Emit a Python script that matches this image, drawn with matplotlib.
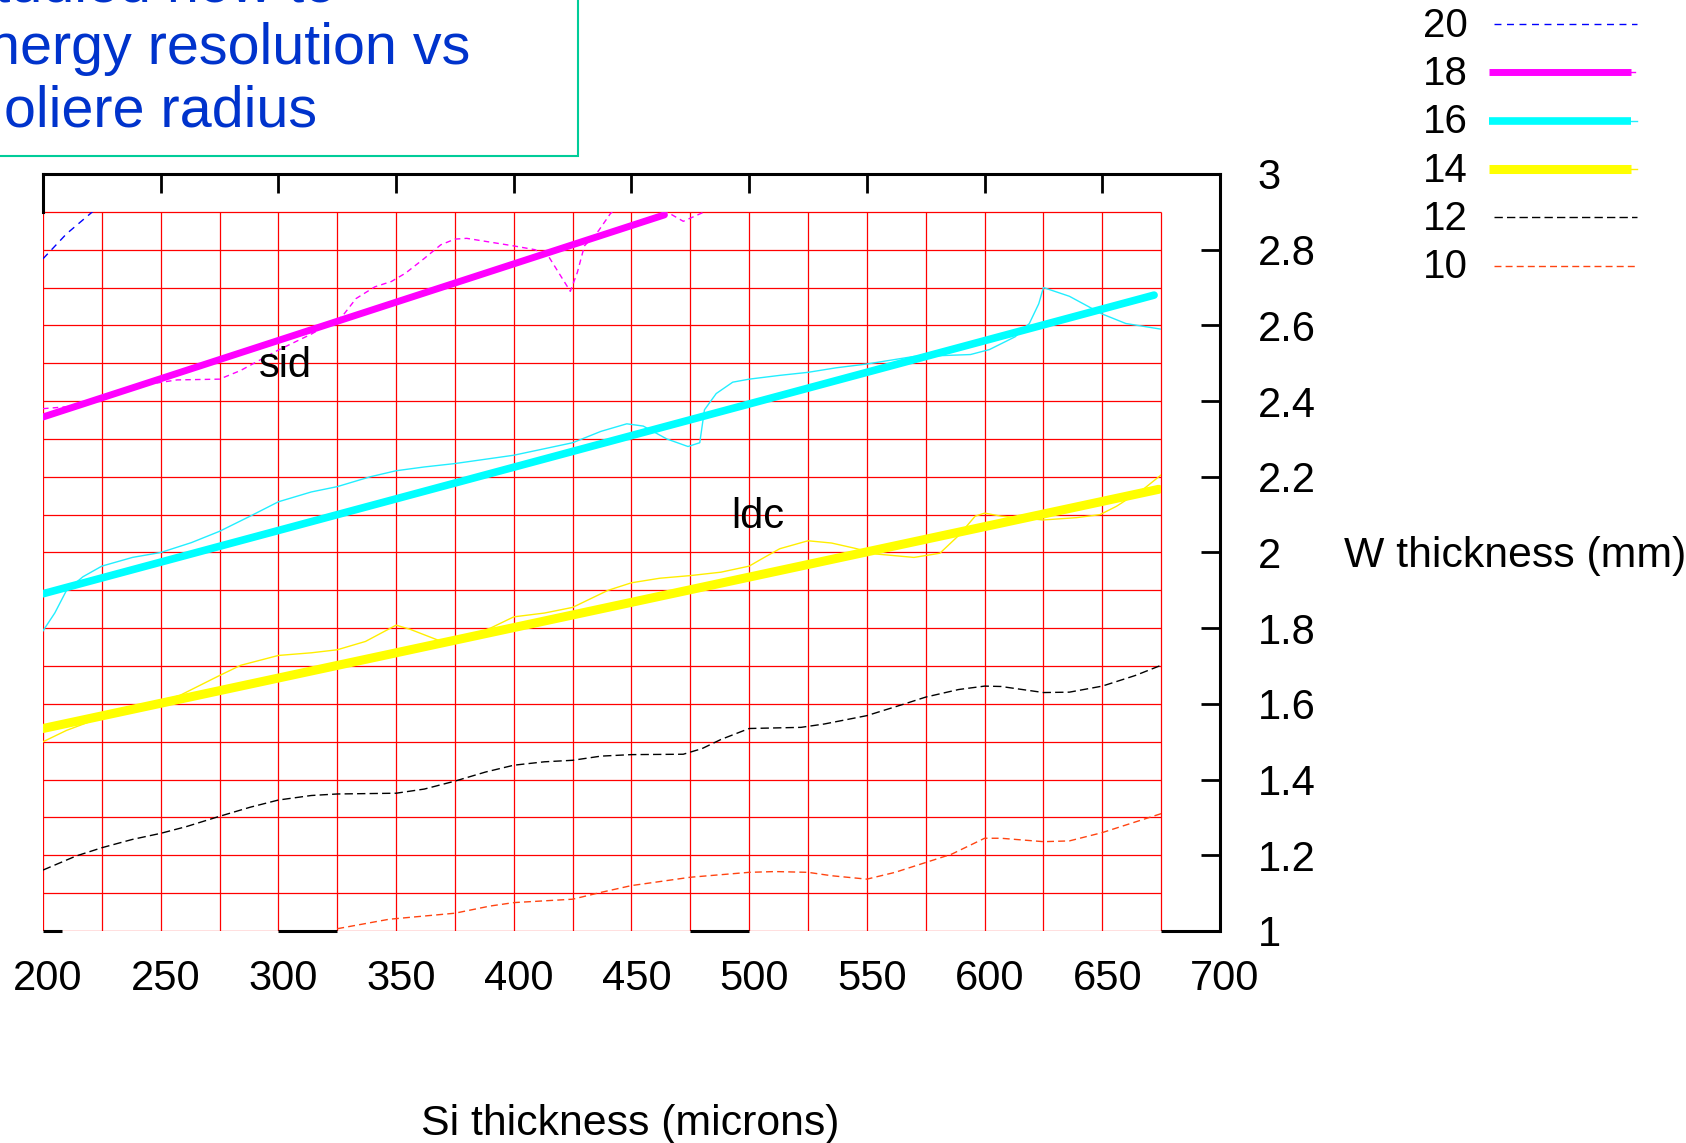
import matplotlib
matplotlib.use('Agg')
import matplotlib.pyplot as plt
from matplotlib.patches import Rectangle
from matplotlib.transforms import ScaledTranslation
import numpy as np

plt.rcParams['font.family'] = ['Liberation Sans', 'DejaVu Sans']

# Espesor de Si (micras) vs espesor de W (mm) para cada radio de Moliere
si_20 = [200, 210, 221, 226]
w_20 = [2.776, 2.842, 2.9, 2.93]

si_18 = [200, 210, 225, 240, 257, 275, 284, 300, 314, 327, 333, 341, 348, 354, 362, 369, 375, 380,
         390, 400, 409, 415, 420, 424, 427, 430, 436, 441, 450, 465, 472, 481, 490]
w_18 = [2.38, 2.385, 2.41, 2.44, 2.456, 2.458, 2.481, 2.535, 2.577, 2.623, 2.671, 2.702, 2.716, 2.738,
        2.777, 2.813, 2.828, 2.83, 2.82, 2.81, 2.80, 2.78, 2.73, 2.69, 2.74, 2.81, 2.85, 2.895, 2.95,
        2.9, 2.875, 2.9, 2.95]

si_16 = [200, 205, 210, 217, 225, 238, 250, 263, 275, 288, 300, 314, 325, 339, 350, 362, 375, 400,
         425, 437, 448, 455, 465, 474, 479, 481, 486, 493, 500, 513, 525, 537, 550, 570, 581, 594,
         602, 613, 619, 623, 625, 636, 650, 660, 675]
w_16 = [1.793, 1.84, 1.90, 1.936, 1.964, 1.987, 2.0, 2.026, 2.056, 2.096, 2.134, 2.16, 2.174, 2.2,
        2.216, 2.226, 2.235, 2.257, 2.29, 2.32, 2.34, 2.334, 2.30, 2.28, 2.29, 2.377, 2.42, 2.45,
        2.458, 2.468, 2.476, 2.488, 2.498, 2.518, 2.52, 2.523, 2.536, 2.57, 2.605, 2.657, 2.70,
        2.677, 2.63, 2.605, 2.59]

si_14 = [200, 210, 225, 240, 258, 275, 284, 300, 314, 325, 337, 350, 356, 368, 380, 390, 400, 413,
         425, 440, 450, 462, 475, 488, 500, 505, 513, 525, 535, 545, 554, 570, 581, 589, 596, 600,
         607, 625, 639, 649, 656, 668, 675]
w_14 = [1.50, 1.53, 1.565, 1.59, 1.622, 1.675, 1.702, 1.728, 1.735, 1.743, 1.765, 1.808, 1.797,
        1.768, 1.775, 1.80, 1.83, 1.84, 1.855, 1.90, 1.92, 1.932, 1.939, 1.948, 1.964, 1.982, 2.01,
        2.031, 2.025, 2.011, 1.996, 1.987, 1.998, 2.045, 2.096, 2.104, 2.096, 2.086, 2.092, 2.10,
        2.122, 2.17, 2.205]

si_12 = [200, 214, 225, 238, 250, 261, 275, 288, 300, 314, 325, 350, 362, 375, 388, 400, 413, 425,
         437, 450, 472, 480, 488, 500, 522, 532, 550, 566, 575, 589, 600, 607, 625, 636, 650, 664, 675]
w_12 = [1.161, 1.198, 1.22, 1.242, 1.258, 1.276, 1.303, 1.327, 1.346, 1.358, 1.362, 1.364, 1.375,
        1.396, 1.42, 1.438, 1.447, 1.451, 1.462, 1.466, 1.467, 1.482, 1.506, 1.535, 1.538, 1.547,
        1.569, 1.60, 1.618, 1.638, 1.647, 1.646, 1.63, 1.631, 1.647, 1.675, 1.702]

si_10 = [325, 347, 375, 390, 400, 425, 437, 450, 475, 500, 511, 525, 535, 550, 562, 575, 586, 600,
         607, 625, 636, 650, 675]
w_10 = [1.006, 1.031, 1.047, 1.066, 1.075, 1.084, 1.102, 1.12, 1.142, 1.155, 1.157, 1.155, 1.146,
        1.137, 1.155, 1.181, 1.203, 1.245, 1.245, 1.236, 1.238, 1.26, 1.31]

# Ajustes lineales (extremos de cada recta)
fit_18_x = [200, 464]
fit_18_y = [2.358, 2.892]
fit_16_x = [200, 672]
fit_16_y = [1.891, 2.680]
fit_14_x = [200, 674]
fit_14_y = [1.535, 2.167]

x_ticks = [200, 250, 300, 350, 400, 450, 500, 550, 600, 650, 700]
y_ticks = [1, 1.2, 1.4, 1.6, 1.8, 2, 2.2, 2.4, 2.6, 2.8, 3]
y_tick_labels = ['1', '1.2', '1.4', '1.6', '1.8', '2', '2.2', '2.4', '2.6', '2.8', '3']

title_lines = ['Studied how to', 'energy resolution vs', 'Moliere radius']
legend_labels = ['20', '18', '16', '14', '12', '10']

# Tramos visibles del eje inferior negro
axis_seg_start = [200, 300, 475, 675]
axis_seg_end = [208, 325, 500, 700]

# Estilos: linea fina (datos) y linea gruesa (ajuste)
thin_style = {
    '20': dict(color='#0000FF', lw=1.0, dashes=(5, 4)),
    '18': dict(color='#FF00FF', lw=1.0, dashes=(4, 3)),
    '16': dict(color='#22EEFF', lw=1.0),
    '14': dict(color='#FFEE00', lw=1.0),
    '12': dict(color='#000000', lw=1.0, dashes=(6, 3)),
    '10': dict(color='#FF4411', lw=1.0, dashes=(5, 3)),
}
thick_style = {
    '18': dict(color='#FF00FF', lw=5.0),
    '16': dict(color='#00FFFF', lw=5.5),
    '14': dict(color='#FFFF00', lw=6.5),
}

fig = plt.figure(figsize=(16.86, 11.43), dpi=100)
ax = fig.add_axes([0.0255, 0.18548, 0.6981, 0.66229])
ax.set_xlim(200, 700)
ax.set_ylim(1, 3)

# Rejilla roja (solo sobre el area de datos)
grid_x = np.arange(200, 676, 25)
grid_y = np.round(np.arange(1.0, 2.91, 0.1), 1)
ax.vlines(grid_x, 1, 2.9, colors='red', lw=0.9, zorder=1)
ax.hlines(grid_y, 200, 675, colors='red', lw=0.9, zorder=1)

clip = Rectangle((200, 1), 475, 1.9, transform=ax.transData, visible=False)

series = [('20', si_20, w_20), ('18', si_18, w_18), ('16', si_16, w_16),
          ('14', si_14, w_14), ('12', si_12, w_12), ('10', si_10, w_10)]
for name, xs, ys in series:
    line, = ax.plot(xs, ys, zorder=3, **thin_style[name])
    line.set_clip_path(clip)

fits = [('18', fit_18_x, fit_18_y), ('16', fit_16_x, fit_16_y), ('14', fit_14_x, fit_14_y)]
for name, xs, ys in fits:
    line, = ax.plot(xs, ys, zorder=4, solid_capstyle='round', **thick_style[name])
    line.set_clip_path(clip)

ax.text(302.8, 2.464, 'sid', fontsize=30, ha='center', va='baseline', zorder=5)
ax.text(503.7, 2.066, 'ldc', fontsize=30, ha='center', va='baseline', zorder=5)

# Ejes y marcas
for side in ['top', 'right', 'left']:
    ax.spines[side].set_linewidth(2.2)
ax.spines['left'].set_bounds(2.9, 3)
ax.spines['bottom'].set_visible(False)
ax.hlines([1] * len(axis_seg_start), axis_seg_start, axis_seg_end, colors='black', lw=2.2,
          zorder=4, clip_on=False)

ax.set_xticks(x_ticks)
ax.set_yticks(y_ticks)
ax.set_yticklabels(y_tick_labels)
ax.tick_params(axis='x', direction='in', top=True, bottom=False, labelbottom=True,
               length=13.5, width=2, pad=20.5, labelsize=30)
ax.tick_params(axis='y', direction='in', left=False, right=True, labelleft=False, labelright=True,
               length=13.5, width=2, pad=27, labelsize=30)
shift = ScaledTranslation(5 / 100, 0, fig.dpi_scale_trans)
for label in ax.get_xticklabels():
    label.set_transform(label.get_transform() + shift)

fig.text(630.5 / 1686, 1 - 1135 / 1143, 'Si thickness (microns)', fontsize=30.8, ha='center', va='baseline')
fig.text(1344 / 1686, 1 - 567 / 1143, 'W thickness (mm)', fontsize=30.8, ha='left', va='baseline')

# Capa en pixeles para el titulo y la leyenda
ov = fig.add_axes([0, 0, 1, 1])
ov.set_xlim(0, 1686)
ov.set_ylim(1143, 0)
ov.axis('off')

ov.add_patch(Rectangle((-20, -20), 598, 176, facecolor='none', edgecolor='#00CC99', lw=1.5))
for i, txt in enumerate(title_lines):
    ov.text(-44, 1 + 62.7 * i, txt, fontsize=41.4, color='#0033CC', ha='left', va='baseline')

for i, name in enumerate(legend_labels):
    y_line = 24 + 48.3 * i
    ov.text(1468, 36.7 + 48.3 * i, name, fontsize=29, ha='right', va='baseline')
    ov.plot([1494, 1637], [y_line, y_line], **thin_style[name])
    if name in thick_style:
        ov.plot([1489, 1631], [y_line, y_line], solid_capstyle='butt', **thick_style[name])

fig.savefig('out.png', dpi=100)
